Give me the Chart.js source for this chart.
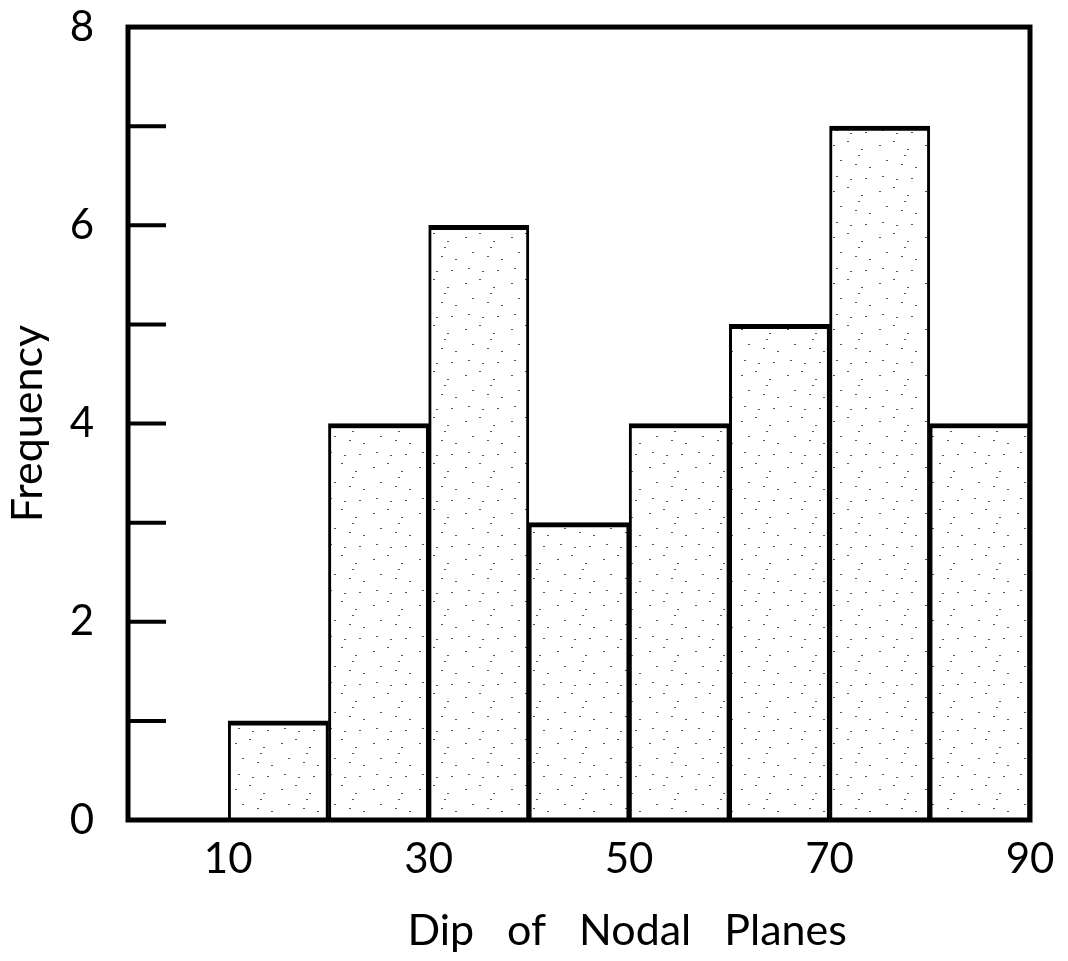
<!DOCTYPE html>
<html>
<head>
<meta charset="utf-8">
<script src="https://cdn.jsdelivr.net/npm/chart.js@4.4.0/dist/chart.umd.min.js"></script>
<style>
  html, body { margin: 0; padding: 0; background: #fff; overflow: hidden; }
  #chart { display: block; }
</style>
</head>
<body>
<canvas id="chart" width="1068" height="961"></canvas>
<script>
// histogram bins (dip in degrees) and counts
const binStarts = [10, 20, 30, 40, 50, 60, 70, 80];
const binWidth = 10;
const frequencies = [1, 4, 6, 3, 4, 5, 7, 4];
const xTickLabels = [10, 30, 50, 70, 90];
const yInnerTicks = [1, 2, 3, 4, 5, 6, 7];

const FONT = 'Lato, "DejaVu Sans", sans-serif';

// light stipple fill like the printed bars
function stipple() {
  const c = document.createElement('canvas');
  c.width = 46; c.height = 46;
  const g = c.getContext('2d');
  g.fillStyle = '#fff';
  g.fillRect(0, 0, 46, 46);
  g.fillStyle = 'rgba(30,30,30,0.75)';
  [[5, 7], [19, 3], [33, 11], [41, 29], [12, 22], [27, 26], [8, 38], [22, 41], [37, 40], [30, 17]]
    .forEach(([x, y]) => g.fillRect(x, y, 2, 1));
  return g.createPattern(c, 'repeat');
}

const framePlugin = {
  id: 'frame',
  afterDatasetsDraw(chart) {
    const { ctx, chartArea: a, scales: { x, y } } = chart;
    ctx.save();
    ctx.strokeStyle = '#000';
    ctx.lineWidth = 5;
    ctx.strokeRect(a.left, a.top, a.right - a.left, a.bottom - a.top);
    ctx.lineWidth = 4;
    yInnerTicks.forEach(v => {
      const py = y.getPixelForValue(v);
      ctx.beginPath();
      ctx.moveTo(a.left, py);
      ctx.lineTo(a.left + 38, py);
      ctx.stroke();
    });
    ctx.font = '43px ' + FONT;
    ctx.fillStyle = '#000';
    ctx.textAlign = 'center';
    ctx.textBaseline = 'alphabetic';
    ctx.fillText('Dip   of   Nodal   Planes', x.getPixelForValue(49.8), 945);
    ctx.restore();
  }
};

new Chart(document.getElementById('chart'), {
  type: 'bar',
  data: {
    datasets: [{
      data: binStarts.map((s, i) => ({ x: s + binWidth / 2, y: frequencies[i] })),
      backgroundColor: stipple(),
      borderColor: '#000',
      borderWidth: { top: 5, left: 3, right: 3, bottom: 0 },
      borderSkipped: false,
      barPercentage: 1,
      categoryPercentage: 1
    }]
  },
  options: {
    responsive: false,
    animation: false,
    devicePixelRatio: 1,
    layout: { padding: { top: 12, right: 38, bottom: 0, left: 0 } },
    plugins: { legend: { display: false }, tooltip: { enabled: false } },
    scales: {
      x: {
        type: 'linear',
        min: 0,
        max: 90,
        offset: false,
        grid: { display: false, offset: false },
        border: { display: false },
        ticks: {
          stepSize: 10,
          autoSkip: false,
          maxRotation: 0,
          padding: 6,
          color: '#000',
          font: { family: FONT, size: 42 },
          callback: v => xTickLabels.includes(v) ? String(v) : ''
        },
        afterFit: s => { s.height = 141; }
      },
      y: {
        min: 0,
        max: 8,
        grid: { display: false },
        border: { display: false },
        ticks: {
          stepSize: 2,
          padding: 26,
          color: '#000',
          font: { family: FONT, size: 42, lineHeight: 0.05 }
        },
        title: {
          display: true,
          text: 'Frequency',
          color: '#000',
          font: { family: FONT, size: 43 },
          padding: 2
        },
        afterFit: s => { s.width = 128; }
      }
    }
  },
  plugins: [framePlugin]
});
</script>
</body>
</html>
